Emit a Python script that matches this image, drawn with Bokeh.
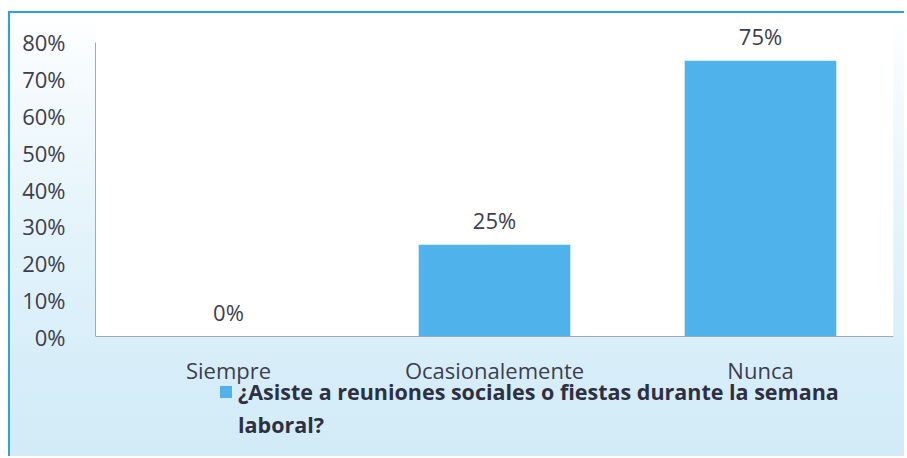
from bokeh.plotting import figure
from bokeh.models import (ColumnDataSource, Range1d, FixedTicker, NumeralTickFormatter,
                          LabelSet, Legend, LegendItem, BoxAnnotation)
from bokeh.core.properties import value
from bokeh.embed import file_html
from bokeh.resources import INLINE

categories = ["Siempre", "Ocasionalemente", "Nunca"]
values = [0.0, 0.25, 0.75]
value_labels = ["0%", "25%", "75%"]
y_ticks = [0.0, 0.1, 0.2, 0.3, 0.4, 0.5, 0.6, 0.7, 0.8]
legend_line1 = "¿Asiste a reuniones sociales o fiestas durante la semana"
legend_line2 = "laboral?"

BAR = "#4fb2ea"
TXT = "#3d3d4f"
LEG = "#2f2f42"
FONT = "Open Sans"

src = ColumnDataSource(dict(cat=categories, val=values, lab=value_labels))

p = figure(x_range=categories, y_range=Range1d(-0.3308, 0.8732),
           width=896, height=445, output_backend="svg", toolbar_location=None,
           min_border_left=85, min_border_right=13, min_border_top=2,
           min_border_bottom=0)
p.styles = {"margin-left": "8px", "margin-top": "11px",
            "border-top": "2px solid #2ba3e2", "border-left": "2px solid #2ba3e2",
            "background": "linear-gradient(to bottom, #ffffff 0%, #f8fcfe 10%, #e6f4fb 45%, #d7eef9 78%, #d2ebf7 100%)"}
p.border_fill_alpha = 0
p.background_fill_alpha = 0
p.outline_line_color = None
p.grid.visible = False
p.x_range.range_padding = 0

p.add_layout(BoxAnnotation(bottom=0, fill_color="white", fill_alpha=1,
                           line_color=None, level="underlay"))

r = p.vbar(x="cat", top="val", width=0.57, source=src, fill_color=BAR, line_color=None)
dummy = p.vbar(x=[], top=[], width=0.5, fill_alpha=0, line_alpha=0)

p.xaxis.fixed_location = 0
p.yaxis.ticker = FixedTicker(ticks=y_ticks)
p.yaxis.bounds = (0, 0.8)
p.yaxis.formatter = NumeralTickFormatter(format="0%")
p.yaxis.major_tick_line_color = None
p.yaxis.minor_tick_line_color = None
p.yaxis.major_label_standoff = 24
p.yaxis.axis_line_color = "#a8a8b0"
p.xaxis.axis_line_color = "#a8a8b0"
p.xaxis.major_tick_line_color = None
p.xaxis.major_label_standoff = 12
for ax in (p.xaxis, p.yaxis):
    ax.major_label_text_font = FONT
    ax.major_label_text_font_size = "22px"
    ax.major_label_text_color = TXT

labels = LabelSet(x="cat", y="val", text="lab", source=src, y_offset=16,
                  text_align="center", text_baseline="alphabetic",
                  text_font=value(FONT), text_font_size="22px", text_color=TXT)
p.add_layout(labels)

legend = Legend(items=[LegendItem(label=legend_line1, renderers=[r]),
                       LegendItem(label=legend_line2, renderers=[dummy])],
                location=(123, 19), orientation="vertical",
                padding=0, margin=0, spacing=4, border_line_color=None,
                background_fill_alpha=0, glyph_width=15, glyph_height=15,
                label_standoff=5, label_text_font=FONT,
                label_text_font_size="21.5px", label_text_font_style="bold",
                label_text_color=LEG)
p.add_layout(legend)

open("out.html", "w").write(file_html(p, INLINE))
